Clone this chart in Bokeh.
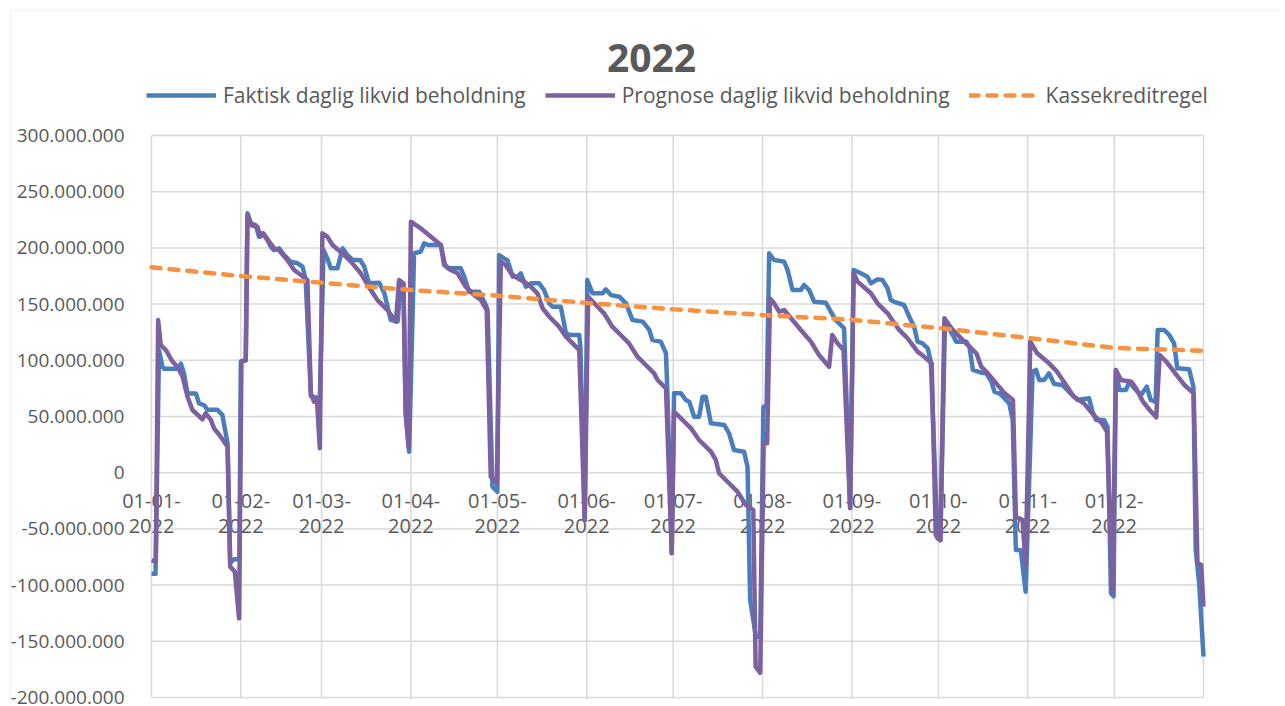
from bokeh.plotting import figure
from bokeh.models import (ColumnDataSource, FixedTicker, Legend, LegendItem,
                          Range1d, Label, BoxAnnotation)
from bokeh.embed import file_html
from bokeh.resources import INLINE

# ---------------- data ----------------
TITLE = "2022"
SERIES_NAMES = ["Faktisk daglig likvid beholdning",
                "Prognose daglig likvid beholdning",
                "Kassekreditregel"]

MONTH_START_DAY = [0, 31, 59, 90, 120, 151, 181, 212, 243, 273, 304, 334]
YEAR_END_DAY = 365
X_TICK_LABELS = ["01-01-2022", "01-02-2022", "01-03-2022", "01-04-2022",
                 "01-05-2022", "01-06-2022", "01-07-2022", "01-08-2022",
                 "01-09-2022", "01-10-2022", "01-11-2022", "01-12-2022"]
Y_TICKS_MIO = [-200, -150, -100, -50, 0, 50, 100, 150, 200, 250, 300]

# Faktisk daglig likvid beholdning (day of year, mio. kr)
faktisk_day = [0, 1.4, 2.6, 3.8, 4.5, 9.2, 10.2, 11.3, 12.5, 15.4, 16.5, 18.3, 19.4, 22.9, 24.6, 26.4, 27.3, 28.7, 30.5,
               31, 32.7, 33.3, 34.5, 36.2, 37.3, 38.5, 40.2, 41.4, 42.5, 44.3, 46, 48.3, 50.7, 52.4, 53.5, 55.3, 58.4,
               59.7, 61, 62.2, 64.5, 66.3, 68, 69.7, 72.5, 73.8, 75.5, 79, 80.8, 83, 85.4, 86.3, 87.4, 88.2, 89.4,
               91.1, 93.4, 94.6, 96, 100.4, 101.5, 103, 107.3, 108.5, 110.2, 113.7, 116, 116.6, 118.3, 120,
               120.6, 122.3, 123.5, 125.3, 127, 128.1, 129.9, 131.6, 134.5, 136.2, 138, 139.1, 142, 143.8, 145, 148.4, 148.8, 150.3,
               151.2, 153, 156.5, 157.6, 159.4, 162.3, 164.6, 166.9, 170.4, 172.7, 173.8, 176.7, 178.5, 179, 180.5,
               181.3, 183.7, 185.4, 186.6, 188.3, 190, 191.2, 192.3, 194.1, 198.7, 200.4, 202.1, 205.6, 206.8, 207.7, 209.7, 211.2,
               212.3, 213.4, 214.3, 216, 219.5, 220.7, 222.4, 225.3, 226.4, 228.2, 229.9, 234, 235.7, 237.4, 240.3, 242.4,
               243.6, 246.1, 248.4, 249.6, 251.9, 253.6, 255.4, 256.5, 257.7, 261.1, 262.9, 264.6, 265.8, 267.5, 269.3, 270.4, 272.7, 273.7,
               275.3, 278, 279.2, 282.7, 283.8, 285, 287.9, 289.6, 291.4, 292.5, 294.2, 295.4, 297.6, 298.8, 299.9, 301.6, 303.3,
               305.7, 306.9, 308, 309.7, 311.4, 313.2, 316, 318.3, 321.3, 325.3, 326.5, 327.7, 330.5, 331.7, 332.9, 333.8,
               334.6, 335.8, 338.1, 339.3, 341, 343.3, 345.3, 346.7, 348.4, 349.1, 351.4, 353.1, 354.8, 355.9, 360, 361.5, 362.3, 363.5, 365]
faktisk_mio = [-90, -90, 109, 94, 92.5, 92.5, 97, 88, 70.5, 70.5, 61.7, 60, 56, 56, 51.3, 26, -80, -77, -77,
               99, 100, 230.8, 222, 220, 210, 213, 207, 201, 198, 199.6, 193.7, 187.7, 186.3, 183.3, 171.4, 68, 66,
               198, 190.7, 181.8, 181.8, 199.6, 193.7, 189.4, 189, 183.3, 168.5, 169, 159.6, 135.8, 134.6, 165.5, 168, 52.8, 18.7,
               195.2, 196.6, 204, 202.6, 202.6, 184.8, 181.8, 181.8, 174.4, 161, 161, 149.2, 144.7, -12.4, -17,
               193.7, 190.7, 189, 174.4, 174.4, 177.4, 165.5, 168.5, 168.5, 162.5, 150.7, 147.7, 147.7, 124, 122.6, 122.6, 112, -42,
               171.4, 159.6, 159.6, 163.2, 158, 156.6, 150.7, 135.8, 134.4, 127, 118, 116.6, 106.2, 70.6, -71.5,
               70.6, 70.6, 64.7, 63, 49.8, 49.8, 67.6, 67.6, 43.9, 42.5, 35, 20.2, 18.7, 5.3, -113, -146, -146,
               58.7, 58.7, 195.2, 189.2, 187.8, 180.3, 162.5, 162.5, 167, 162.5, 152.1, 151.2, 143.2, 135.8, 128.5, -31,
               180.3, 177.4, 174.4, 168.5, 172, 171.4, 164, 153.6, 152, 149.2, 138.8, 129.9, 116.6, 115, 110.7, 98.8, -58.4, -60,
               134.4, 122.5, 116.6, 116.6, 112, 91.4, 89, 88.4, 81, 72, 70.6, 67.6, 61.7, 46.9, -68.8, -68.8, -105.9,
               89.9, 91.4, 82.5, 82.5, 88.4, 78.9, 78, 72, 64.7, 66.2, 54.3, 46.9, 46.9, 40.9, -107.3, -110,
               91.4, 73.6, 73.6, 81, 75, 69.1, 76.5, 64.7, 63, 127, 127, 122.5, 115.1, 92.9, 92, 76.5, -68.8, -98.4, -163.7]

# Prognose daglig likvid beholdning (day of year, mio. kr)
prognose_day = [0, 1.5, 2.3, 3.2, 5, 7.3, 9, 10.8, 12.5, 14.2, 17.7, 18.8, 20.6, 21.7, 24, 26.4, 27.3, 28.9, 30.4,
                31.2, 32.7, 33.3, 34.7, 36.8, 37.8, 38.8, 42.5, 44.2, 47.2, 49.5, 51.8, 54.1, 55.3, 56.4, 57.4, 58.4,
                59.3, 61, 62.8, 66.8, 69.2, 72.6, 76.1, 78.4, 81.9, 84.8, 85.9, 87.4, 88.2, 89.2,
                90, 93.4, 100.4, 101.8, 103.8, 106.2, 109, 112, 114.3, 116.3, 117.7, 119.8,
                121.2, 122.9, 124.7, 127, 129.3, 131.6, 133.9, 135.7, 138, 141.4, 143.8, 146.1, 148.4, 150.3,
                151.5, 154.2, 157, 159.9, 162.8, 165.7, 168.6, 171.5, 174.4, 175.6, 178.5, 180.5,
                181.3, 183.7, 187.2, 190, 194.1, 195.8, 196.9, 200.4, 203.3, 206.2, 208.8, 209.6, 211.2,
                212.4, 213.6, 214.6, 216, 217.8, 219.5, 222.4, 225.3, 228.8, 231.6, 235.1, 236.2, 238, 240.1, 242.4,
                243.6, 245, 249.6, 251.9, 255.4, 259.4, 262.3, 265.8, 268.1, 270.7, 272.1, 273.7,
                275.1, 278, 281.5, 284.4, 286.2, 287.9, 290.2, 293.1, 296, 298.9, 299.9, 302.2, 303.3,
                304.9, 307.3, 310.8, 314.2, 317.7, 320, 323.5, 326.9, 329.8, 331.5, 333.4,
                334.6, 336.4, 339.9, 341.6, 344, 346.3, 348.6, 349.8, 352.1, 356.1, 358.4, 361.6, 362.9, 364.2, 365]
prognose_mio = [-78, -79, 135.8, 113.6, 109, 98.8, 94.3, 85.4, 67.6, 55.8, 47.5, 52.8, 46.9, 39.5, 32, 23.1, -83.6, -88, -129.6,
                99, 100, 229, 220, 218.6, 210, 213, 199.6, 198, 189, 180.3, 175.9, 171.4, 70.6, 63.2, 64.7, 21.7,
                213, 210, 202.6, 193.7, 187.8, 177.4, 162.5, 153.6, 144.7, 134.3, 171.4, 168.5, 52.8, 23.1,
                223.3, 217.4, 202.6, 184.8, 180.3, 177.4, 165.5, 158, 153.6, 144.7, -3.5, -9.4,
                187.8, 184.8, 177.4, 173, 170, 165.5, 159.6, 146.3, 138.8, 129.9, 121, 115.1, 109.2, -42,
                156.6, 149.2, 141.8, 129.9, 122.5, 115.1, 103.2, 95.8, 88.4, 82.5, 75.1, -71.7,
                54.3, 48.4, 39.5, 29.1, 18.7, 11.3, -0.5, -9.4, -16.9, -28.7, -33.2, -172.6, -178,
                26.2, 26.2, 155, 150.7, 143.2, 144.7, 135.8, 127, 116.6, 104.7, 94.3, 122.5, 115.1, 109.2, -31.7,
                177.4, 170, 159.6, 150.7, 141.8, 127, 119.6, 107.7, 103.2, 97.3, -55.4, -60,
                137.4, 127, 118, 110.7, 106.2, 94.3, 88.4, 79.5, 70.6, 64.7, -39.1, -42, -82,
                116.6, 106.2, 98.8, 89.9, 76.5, 67.6, 61.7, 51.3, 43.9, 36.5, -105.9,
                91.4, 82.5, 81, 75, 63.2, 55.8, 49.3, 104.7, 98.8, 85.4, 78, 70.6, -80.6, -82, -119.2]

# Kassekreditregel (day of year, mio. kr)
kassekredit_day = [0, 31, 59, 90, 120, 151, 181, 212, 243, 273, 304, 334, 365]
kassekredit_mio = [182.7, 175, 169, 162.5, 157.5, 151, 145.4, 140.3, 136, 128.7, 120, 111, 108.5]

# ---------------- styling / layout ----------------
TEXT = "#595959"
GRID = "#d9d9d9"
BLUE = "#4A7EBB"
PURPLE = "#7D60A0"
ORANGE = "#F69240"
FONT = "Open Sans"
MIO = 1_000_000

W, H = 1280, 704
# plotting area (in page pixels) of the reference chart
PA_LEFT, PA_RIGHT, PA_TOP, PA_BOTTOM = 151, 1203, 135, 697
px_per_day = (PA_RIGHT - PA_LEFT) / YEAR_END_DAY
px_per_mio = (PA_BOTTOM - PA_TOP) / (Y_TICKS_MIO[-1] - Y_TICKS_MIO[0])
x0 = -PA_LEFT / px_per_day
x1 = YEAR_END_DAY + (W - PA_RIGHT) / px_per_day
y1 = (Y_TICKS_MIO[-1] + PA_TOP / px_per_mio) * MIO
y0 = (Y_TICKS_MIO[0] - (H - PA_BOTTOM) / px_per_mio) * MIO

p = figure(width=W, height=H, output_backend="svg", toolbar_location=None,
           x_range=Range1d(x0, x1), y_range=Range1d(y0, y1),
           min_border_left=0, min_border_right=0, min_border_top=0,
           min_border_bottom=0)
p.outline_line_color = None
p.background_fill_color = "white"
p.border_fill_color = "white"
p.xgrid.visible = False
p.ygrid.visible = False

y_ticks = [v * MIO for v in Y_TICKS_MIO]
x_grid = MONTH_START_DAY + [YEAR_END_DAY]

# gridlines, limited to the plotting area
p.segment(x0=x_grid, x1=x_grid, y0=[y_ticks[0]] * len(x_grid), y1=[y_ticks[-1]] * len(x_grid),
          line_color=GRID, line_width=1.5, level="underlay")
p.segment(x0=[0] * len(y_ticks), x1=[YEAR_END_DAY] * len(y_ticks), y0=y_ticks, y1=y_ticks,
          line_color=GRID, line_width=1.5, level="underlay")

# y axis at day 0
yax = p.yaxis[0]
yax.fixed_location = 0
yax.ticker = FixedTicker(ticks=y_ticks)
yax.major_label_overrides = {t: f"{t:,}".replace(",", ".") for t in y_ticks}
yax.axis_line_color = None
yax.major_tick_line_color = None
yax.minor_tick_line_color = None
yax.major_label_standoff = 21
yax.major_label_text_font = FONT
yax.major_label_text_font_size = "19px"
yax.major_label_text_color = TEXT

# x axis crossing at 0 (labels sit just below the zero line)
xax = p.xaxis[0]
xax.fixed_location = 0
xax.level = "underlay"
xax.ticker = FixedTicker(ticks=MONTH_START_DAY)
xax.major_label_overrides = {d: s[:6] + "\n" + s[6:]
                             for d, s in zip(MONTH_START_DAY, X_TICK_LABELS)}
xax.axis_line_color = None
xax.major_tick_line_color = None
xax.minor_tick_line_color = None
xax.major_label_standoff = 8
xax.major_label_text_font = FONT
xax.major_label_text_font_size = "20px"
xax.major_label_text_line_height = 0.92
xax.major_label_text_color = TEXT

# chart border (top / left visible in the reference)
p.add_layout(BoxAnnotation(left=10, right=W + 20, top=H - 10, bottom=-20,
                           left_units="screen", right_units="screen",
                           top_units="screen", bottom_units="screen",
                           fill_alpha=0, line_color=GRID, line_width=1.5))

# series
src_f = ColumnDataSource(dict(x=faktisk_day, y=[v * MIO for v in faktisk_mio]))
src_p = ColumnDataSource(dict(x=prognose_day, y=[v * MIO for v in prognose_mio]))
src_k = ColumnDataSource(dict(x=kassekredit_day, y=[v * MIO for v in kassekredit_mio]))

r_f = p.line("x", "y", source=src_f, line_color=BLUE, line_width=4.5, line_join="round")
r_p = p.line("x", "y", source=src_p, line_color=PURPLE, line_width=4.5, line_join="round")
r_k = p.line("x", "y", source=src_k, line_color=ORANGE, line_width=4.5,
             line_dash="9 9", line_cap="round")

# legend
legend = Legend(items=[LegendItem(label=SERIES_NAMES[0], renderers=[r_f]),
                       LegendItem(label=SERIES_NAMES[1], renderers=[r_p]),
                       LegendItem(label=SERIES_NAMES[2], renderers=[r_k])],
                location=(146, H - 109), orientation="horizontal",
                margin=0, padding=0, spacing=19,
                glyph_width=70, glyph_height=24, label_height=24, label_standoff=7,
                label_text_font=FONT, label_text_font_size="21px",
                label_text_color=TEXT, border_line_color=None,
                background_fill_alpha=0)
p.add_layout(legend)

# title
title = Label(x=651, y=H - 57, x_units="screen", y_units="screen", text=TITLE,
              text_font=FONT, text_font_size="39px", text_font_style="bold",
              text_color=TEXT, text_align="center", text_baseline="middle")
p.add_layout(title)

open("out.html", "w").write(file_html(p, INLINE))
